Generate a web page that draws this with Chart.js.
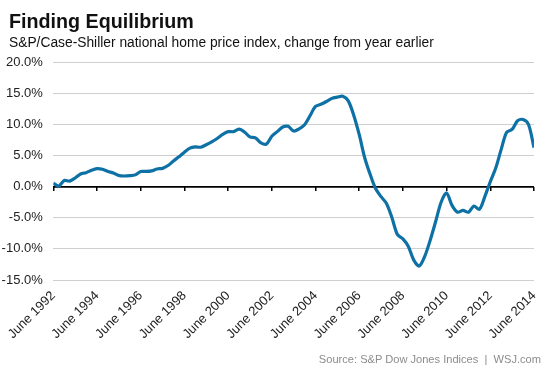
<!DOCTYPE html>
<html>
<head>
<meta charset="utf-8">
<script src="https://cdn.jsdelivr.net/npm/chart.js@4/dist/chart.umd.min.js"></script>
<style>
  html, body { margin: 0; padding: 0; background: #fff; }
  #wrap { position: relative; width: 553px; height: 369px; overflow: hidden; font-family: "Liberation Sans", Arial, sans-serif; }
  #title { position: absolute; left: 9px; top: 10.5px; font-size: 19.7px; line-height: 20px; font-weight: bold; color: #111; white-space: nowrap; }
  #subtitle { position: absolute; left: 9px; top: 34.5px; font-size: 13.8px; line-height: 15px; color: #111; white-space: nowrap; }
  #source { position: absolute; right: 12px; top: 352.5px; font-size: 11.1px; line-height: 12px; color: #8c8c8c; white-space: pre; }
  canvas { position: absolute; left: 0; top: 0; }
</style>
</head>
<body>
<div id="wrap">
  <canvas id="c" width="553" height="369"></canvas>
  <div id="title">Finding Equilibrium</div>
  <div id="subtitle">S&amp;P/Case-Shiller national home price index, change from year earlier</div>
  <div id="source">Source: S&amp;P Dow Jones Indices  |  WSJ.com</div>
</div>
<script>
// Months since June 1992 (quarterly observations)
const months = [0,3,6,9,12,15,18,21,24,27,30,33,36,39,42,45,48,51,54,57,60,63,66,69,72,75,78,81,84,87,
  90,93,96,99,102,105,108,111,114,117,120,123,126,129,132,135,138,141,144,147,150,153,156,159,162,165,168,171,174,177,
  180,183,186,189,192,195,198,201,204,207,210,213,216,219,222,225,228,231,234,237,240,243,246,249,252,255,258,261,264];
// Year-over-year change, percent
const changePct = [0.55,0.1,1.0,0.9,1.4,2.05,2.25,2.65,2.9,2.8,2.45,2.2,1.8,1.72,1.77,1.9,2.45,2.45,2.55,2.85,
  2.95,3.4,4.15,4.8,5.55,6.2,6.4,6.35,6.75,7.2,7.75,8.4,8.85,8.85,9.25,8.8,8.0,7.85,7.05,6.85,
  8.1,8.85,9.6,9.7,8.95,9.3,9.95,11.4,12.9,13.25,13.7,14.2,14.4,14.55,13.8,11.5,8.4,4.7,2.0,-0.3,
  -1.6,-2.7,-5.0,-7.7,-8.4,-9.6,-11.8,-12.75,-11.2,-8.6,-5.6,-2.5,-1.0,-3.0,-4.1,-3.8,-4.1,-3.1,-3.65,-1.6,
  0.8,3.0,6.0,8.75,9.2,10.6,10.8,10.0,6.3];
const tickLabels = ['June 1992','June 1994','June 1996','June 1998','June 2000','June 2002',
  'June 2004','June 2006','June 2008','June 2010','June 2012','June 2014'];
const yTicks = [-15, -10, -5, 0, 5, 10, 15, 20];

const points = months.map((m, i) => ({ x: m, y: changePct[i] }));

new Chart(document.getElementById('c'), {
  type: 'line',
  data: {
    datasets: [{
      data: points,
      borderColor: '#0e71a6',
      borderWidth: 3.2,
      pointRadius: 0,
      tension: 0.3,
      fill: false
    }]
  },
  options: {
    responsive: false,
    devicePixelRatio: 1,
    animation: false,
    events: [],
    layout: { padding: { left: 0, right: 14.7, top: 62.3, bottom: 29 } },
    plugins: { legend: { display: false }, tooltip: { enabled: false }, title: { display: false } },
    scales: {
      x: {
        type: 'linear',
        min: 0, max: 264,
        position: 'bottom',
        grid: { display: false, drawTicks: false },
        border: { display: false },
        afterBuildTicks: (s) => { s.ticks = tickLabels.map((_, i) => ({ value: i * 24 })); },
        afterFit: (s) => { s.height = 60; },
        ticks: {
          autoSkip: false,
          maxRotation: 45, minRotation: 45,
          padding: 8,
          color: '#222',
          font: { family: '"Liberation Sans", Arial, sans-serif', size: 13 },
          callback: (v) => tickLabels[Math.round(v / 24)]
        }
      },
      x2: {
        type: 'linear',
        axis: 'x',
        min: 0, max: 264,
        position: { y: 0 },
        afterBuildTicks: (s) => { s.ticks = tickLabels.map((_, i) => ({ value: i * 24 })); },
        grid: { drawOnChartArea: false, drawTicks: true, tickLength: 4, color: '#000', lineWidth: 1.5 },
        border: { display: false },
        ticks: { display: false }
      },
      y: {
        min: -15, max: 20,
        afterBuildTicks: (s) => { s.ticks = yTicks.map(v => ({ value: v })); },
        afterFit: (s) => { s.width = 53.3; },
        grid: {
          drawTicks: false,
          color: (ctx) => ctx.tick && ctx.tick.value === 0 ? '#000' : '#cfcfcf',
          lineWidth: (ctx) => ctx.tick && ctx.tick.value === 0 ? 1.8 : 1
        },
        border: { display: false },
        ticks: {
          padding: 10.5,
          color: '#222',
          font: { family: '"Liberation Sans", Arial, sans-serif', size: 13 },
          callback: (v) => v.toFixed(1) + '%'
        }
      }
    }
  }
});
</script>
</body>
</html>
